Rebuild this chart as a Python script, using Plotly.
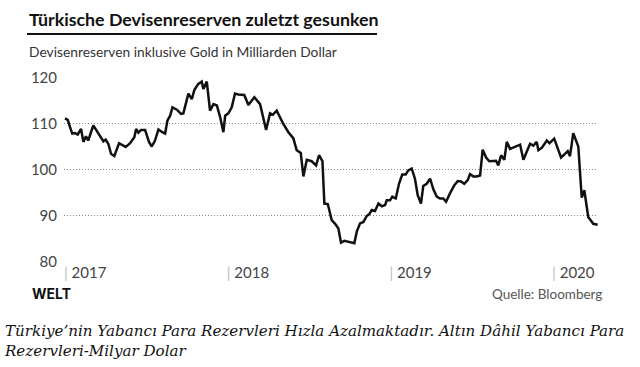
import plotly.graph_objects as go
import pandas as pd

# Approximate time positions (decimal years)
year_frac = [
    2017.006, 2017.023, 2017.037, 2017.051, 2017.068, 2017.084, 2017.105, 2017.119, 2017.135, 2017.149,
    2017.180, 2017.201, 2017.221, 2017.242, 2017.256, 2017.272, 2017.289, 2017.309, 2017.338, 2017.355,
    2017.379, 2017.406, 2017.432, 2017.443, 2017.457, 2017.473, 2017.498, 2017.522, 2017.539, 2017.559,
    2017.580, 2017.604, 2017.621, 2017.635, 2017.652, 2017.666, 2017.693, 2017.719, 2017.733, 2017.764,
    2017.785, 2017.801, 2017.825, 2017.846, 2017.856, 2017.877, 2017.897, 2017.918, 2017.939, 2017.959,
    2017.979, 2017.990, 2018.010, 2018.031, 2018.051, 2018.071, 2018.108, 2018.133, 2018.170, 2018.205,
    2018.242, 2018.266, 2018.283, 2018.307, 2018.328, 2018.348, 2018.379, 2018.400, 2018.409, 2018.430,
    2018.455, 2018.471, 2018.492, 2018.522, 2018.549, 2018.567, 2018.588, 2018.600, 2018.621, 2018.645,
    2018.666, 2018.686, 2018.702, 2018.723, 2018.747, 2018.764, 2018.784, 2018.799, 2018.819, 2018.840,
    2018.860, 2018.876, 2018.891, 2018.911, 2018.932, 2018.953, 2018.973, 2018.983, 2019.004, 2019.018,
    2019.039, 2019.059, 2019.079, 2019.100, 2019.116, 2019.137, 2019.157, 2019.174, 2019.194, 2019.208,
    2019.229, 2019.250, 2019.270, 2019.291, 2019.311, 2019.331, 2019.348, 2019.372, 2019.399, 2019.420,
    2019.440, 2019.460, 2019.481, 2019.495, 2019.516, 2019.536, 2019.557, 2019.573, 2019.594, 2019.614,
    2019.639, 2019.655, 2019.669, 2019.686, 2019.706, 2019.721, 2019.741, 2019.772, 2019.803, 2019.823,
    2019.844, 2019.864, 2019.884, 2019.905, 2019.915, 2019.936, 2019.967, 2019.983, 2020.013, 2020.055,
    2020.079, 2020.096, 2020.110, 2020.130, 2020.161, 2020.182, 2020.198, 2020.222, 2020.253, 2020.280,
]

# Foreign currency reserves incl. gold, billion USD
reserves = [
    111.1, 110.8, 109.2, 107.8, 107.9, 107.6, 108.8, 106.0, 107.2, 106.3,
    109.6, 108.5, 107.4, 106.1, 106.5, 105.6, 103.4, 102.9, 105.7, 105.4,
    104.9, 105.7, 107.0, 108.8, 108.0, 108.6, 108.6, 106.0, 105.0, 106.3,
    108.7, 108.1, 107.8, 110.6, 111.7, 113.5, 113.0, 112.1, 112.2, 116.5,
    115.3, 117.3, 118.6, 119.1, 117.5, 119.1, 112.8, 114.2, 113.9, 111.4,
    108.1, 111.7, 112.2, 113.5, 116.5, 116.3, 116.2, 114.0, 115.7, 114.2,
    108.6, 112.2, 111.9, 112.8, 111.2, 109.9, 108.1, 107.0, 106.8, 104.2,
    103.6, 98.5, 102.1, 101.8, 100.9, 103.1, 101.8, 92.6, 92.5, 89.0,
    88.2, 87.2, 84.1, 84.5, 84.3, 84.3, 84.0, 86.5, 88.3, 88.6,
    89.9, 90.3, 91.2, 91.0, 92.6, 92.0, 92.3, 93.3, 93.3, 94.1,
    93.7, 96.9, 98.9, 98.9, 99.8, 100.2, 98.0, 94.4, 92.6, 96.4,
    96.9, 98.0, 95.7, 94.1, 93.7, 93.7, 93.0, 94.8, 96.6, 97.5,
    97.4, 96.9, 97.7, 99.0, 98.5, 98.5, 98.7, 104.3, 102.6, 101.8,
    101.8, 101.9, 100.9, 103.1, 102.1, 106.0, 104.5, 104.9, 105.4, 102.1,
    103.8, 105.6, 105.2, 106.0, 104.2, 104.7, 106.3, 105.7, 106.7, 102.6,
    103.4, 104.0, 102.9, 107.9, 105.0, 93.9, 95.5, 89.7, 88.2, 88.0,
]

tick_years = [2017, 2018, 2019, 2020]
y_ticks = [80, 90, 100, 110, 120]


def to_date(y):
    base = int(y)
    return pd.Timestamp(f"{base}-01-01") + pd.Timedelta(days=(y - base) * 365.25)


dates = [to_date(y) for y in year_frac]

fig = go.Figure()
fig.add_trace(go.Scatter(
    x=dates, y=reserves, mode="lines",
    line=dict(color="#111111", width=2.5),
    hoverinfo="skip", showlegend=False,
))

L, R, T, B = 64, 42, 77, 105
W, H = 640, 367
pw, ph = W - L - R, H - T - B


def px(x):
    return (x - L) / pw


def py(y):
    return (H - B - y) / ph


fig.update_layout(
    width=W, height=H,
    margin=dict(l=L, r=R, t=T, b=B, pad=0),
    paper_bgcolor="white", plot_bgcolor="white",
    font=dict(family="Lato, Noto Sans, sans-serif", color="#333333"),
    xaxis=dict(
        type="date",
        range=[to_date(2017.0), to_date(2020.282)],
        tickvals=[pd.Timestamp(f"{y}-01-01") for y in tick_years],
        ticktext=[f"<span style='color:#bbbbbb'>|</span> {y}" for y in tick_years],
        ticklabelposition="outside right",
        ticks="", showgrid=False, zeroline=False, showline=False,
        tickfont=dict(size=15, color="#444444"),
        fixedrange=True,
    ),
    yaxis=dict(
        range=[79.9, 120.1],
        tickvals=y_ticks,
        ticks="", showgrid=True, gridcolor="#8a8a8a", griddash="1px,2px", gridwidth=1,
        zeroline=False, showline=False,
        tickfont=dict(size=15, color="#444444"),
        ticklabelstandoff=6,
        fixedrange=True,
    ),
    annotations=[
        dict(text="<b>Türkische Devisenreserven zuletzt gesunken</b>",
             x=px(27), y=py(19), xref="paper", yref="paper",
             xanchor="left", yanchor="middle", showarrow=False,
             font=dict(size=17.8, color="#111111")),
        dict(text="Devisenreserven inklusive Gold in Milliarden Dollar",
             x=px(27), y=py(51), xref="paper", yref="paper",
             xanchor="left", yanchor="middle", showarrow=False,
             font=dict(size=13.8, color="#333333")),
        dict(text="<b>WELT</b>",
             x=px(30), y=py(293), xref="paper", yref="paper",
             xanchor="left", yanchor="middle", showarrow=False,
             font=dict(size=14, color="#111111", family="Inter, Lato, sans-serif")),
        dict(text="Quelle: Bloomberg",
             x=px(604), y=py(294), xref="paper", yref="paper",
             xanchor="right", yanchor="middle", showarrow=False,
             font=dict(size=13.5, color="#555555")),
        dict(text="<i>Türkiye’nin Yabancı Para Rezervleri Hızla Azalmaktadır. Altın Dâhil Yabancı Para<br>Rezervleri-Milyar Dolar</i>",
             x=px(2), y=py(320), xref="paper", yref="paper",
             xanchor="left", yanchor="top", align="left", showarrow=False,
             font=dict(size=15.1, color="#111111", family="DejaVu Serif, serif")),
    ],
    shapes=[
        dict(type="line", xref="paper", yref="paper",
             x0=px(27), x1=px(377), y0=py(34), y1=py(34),
             line=dict(color="#111111", width=2)),
    ],
)

fig.write_html("out.html", config={"displayModeBar": False},
               post_script="document.body.style.margin='0px';")
